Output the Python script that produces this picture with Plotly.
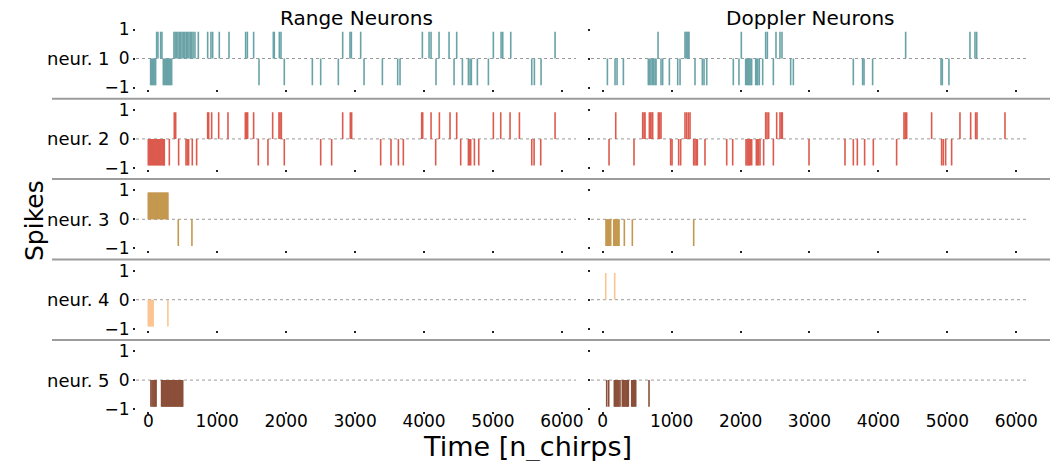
import plotly.graph_objects as go

# ---------------- data: spike times (n_chirps) ----------------
# Range neurons (left column)
R1_UP = [121, 140, 179, 198, 372, 390, 410, 430, 450, 470, 490, 510, 530, 550, 570, 590,
         610, 630, 650, 677, 726, 861, 909, 934, 1030, 1171, 1412, 1437, 1528, 1814, 1828,
         1901, 1925, 2820, 2926, 2946, 3081, 3976, 4073, 4102, 4218, 4363, 4474, 5006,
         5118, 5142, 5258, 5901]
R1_DN = [34, 50, 65, 80, 95, 106, 218, 235, 250, 265, 280, 295, 310, 325, 339, 1606, 1973,
         2380, 2501, 2757, 3130, 3396, 3618, 3652, 4174, 4436, 4557, 4644, 4668, 4687, 4774,
         4934, 5563, 5601, 5698]
R2_UP = [377, 397, 861, 876, 919, 1021, 1156, 1408, 1427, 1441, 1528, 1804, 1896, 1911, 1930,
         2820, 2931, 2950, 3966, 3981, 4102, 4223, 4377, 4474, 5006, 5113, 5248, 5384, 5901]
R2_DN = [0, 15, 30, 45, 60, 75, 90, 105, 120, 135, 150, 165, 180, 195, 210, 225, 232, 305,
         440, 547, 566, 585, 638, 701, 1596, 1736, 1973, 2501, 2660, 3371, 3521, 3628, 3700,
         4169, 4532, 4644, 4658, 4677, 4731, 4794, 5563, 5597, 5693]
R3_UP = [0, 12, 24, 36, 48, 60, 72, 84, 96, 108, 120, 132, 144, 156, 168, 180, 192, 204, 216,
         228, 240, 252, 264, 276, 284]
R3_DN = [435, 633]
R4_UP = []
R4_DN = [0, 15, 30, 45, 60, 70, 284]
R5_UP = []
R5_DN = [38, 55, 70, 85, 100, 113, 193, 205, 218, 230, 243, 255, 268, 280, 293, 305, 318, 330,
         343, 355, 368, 380, 393, 405, 418, 430, 443, 455, 468, 480, 490, 499]

# Doppler neurons (right column)
D1_UP = [803, 1194, 1210, 1225, 1240, 1252, 2011, 2364, 2389, 2514, 2572, 2601, 4395, 5328,
         5401, 5425]
D1_DN = [68, 179, 208, 300, 662, 680, 700, 720, 740, 760, 774, 846, 870, 967, 1088, 1122,
         1339, 1446, 1470, 1509, 1895, 1977, 2074, 2090, 2105, 2120, 2135, 2150, 2161, 2219,
         2235, 2250, 2272, 2321, 2476, 2727, 2766, 3636, 3771, 3791, 3916, 4908, 4927, 5023]
D2_UP = [189, 580, 600, 614, 677, 696, 716, 725, 807, 827, 846, 1194, 1218, 1243, 1267, 2364,
         2384, 2408, 2524, 2572, 2592, 2606, 4371, 4390, 4410, 4772, 5183, 5338, 5410, 5430,
         5836]
D2_DN = [92, 454, 986, 1006, 1102, 1131, 1320, 1339, 1359, 1373, 1484, 1799, 1886, 2079, 2095,
         2110, 2125, 2140, 2161, 2229, 2245, 2261, 2282, 2335, 2476, 2993, 3515, 3636, 3694,
         3800, 3926, 4264, 4917, 4941, 4975, 5062]
D3_UP = []
D3_DN = [48, 60, 72, 84, 96, 108, 116, 160, 172, 184, 196, 210, 225, 237, 314, 430, 1320]
D4_UP = [44, 174]
D4_DN = []
D5_UP = []
D5_DN = [58, 87, 169, 182, 195, 208, 221, 234, 251, 285, 298, 311, 324, 337, 350, 360, 372,
         421, 434, 447, 460, 479, 672]

NEURON_LABELS = ["neur. 1", "neur. 2", "neur. 3", "neur. 4", "neur. 5"]
COLUMN_TITLES = ["Range Neurons", "Doppler Neurons"]
X_TICKS = [0, 1000, 2000, 3000, 4000, 5000, 6000]
Y_TICKS = [-1, 0, 1]
COLORS = ["#69a3a7", "#dc5b4e", "#c4984f", "#fbc592", "#8b4f39"]

RANGE_SPIKES = [(R1_UP, R1_DN), (R2_UP, R2_DN), (R3_UP, R3_DN), (R4_UP, R4_DN), (R5_UP, R5_DN)]
DOPPLER_SPIKES = [(D1_UP, D1_DN), (D2_UP, D2_DN), (D3_UP, D3_DN), (D4_UP, D4_DN), (D5_UP, D5_DN)]

# ---------------- layout geometry ----------------
W, H = 1050, 461
SPIKE_LEN = 0.92          # drawn length of a +/-1 spike glyph
Y_RANGE = [-1.05, 1.1]
PX_PER_UNIT = 29.0
ROW_ZERO_PX = [58.5 + 80.4 * k for k in range(5)]
COL_PX = [(136, 576), (591, 1029)]
PX_PER_X = 0.06893
ZERO_X_PX = [148.3, 602.7]

fig = go.Figure()


def spike_xy(times, sign):
    xs, ys = [], []
    for t in times:
        xs += [t, t, None]
        ys += [0, sign * SPIKE_LEN, None]
    return xs, ys


font_family = "DejaVu Sans"
ax_i = 0
for c, spikes in enumerate([RANGE_SPIKES, DOPPLER_SPIKES]):
    x0px, x1px = COL_PX[c]
    xl = -(ZERO_X_PX[c] - x0px) / PX_PER_X
    xr = xl + (x1px - x0px) / PX_PER_X
    for r in range(5):
        ax_i += 1
        suf = "" if ax_i == 1 else str(ax_i)
        xa, ya = "x" + suf, "y" + suf
        up, dn = spikes[r]
        for times, sign in ((up, 1), (dn, -1)):
            if not times:
                continue
            xs, ys = spike_xy(times, sign)
            fig.add_trace(go.Scatter(x=xs, y=ys, mode="lines", xaxis=xa, yaxis=ya,
                                     line=dict(color=COLORS[r], width=1.6),
                                     showlegend=False, hoverinfo="skip"))
        z = ROW_ZERO_PX[r]
        top_px = z - (Y_RANGE[1]) * PX_PER_UNIT
        bot_px = z - (Y_RANGE[0]) * PX_PER_UNIT
        fig.layout["xaxis" + suf] = dict(
            domain=[x0px / W, x1px / W], range=[xl, xr], anchor=ya, automargin=False,
            tickvals=X_TICKS, ticks="outside", ticklen=2, tickwidth=1.5, tickcolor="#222",
            ticklabelstandoff=-7,
            showticklabels=(r == 4), showgrid=False, zeroline=False, showline=False,
            tickfont=dict(size=17, color="black", family=font_family))
        fig.layout["yaxis" + suf] = dict(
            domain=[1 - bot_px / H, 1 - top_px / H], range=Y_RANGE, anchor=xa,
            automargin=False,
            tickvals=Y_TICKS, ticks="outside", ticklen=2, tickwidth=1.5, tickcolor="#222",
            showticklabels=(c == 0), showgrid=False, zeroline=False, showline=False,
            tickfont=dict(size=17, color="black", family=font_family))
        # dotted zero line
        fig.add_shape(type="line", xref=xa + " domain", yref=ya, x0=0, x1=1, y0=0, y1=0,
                      line=dict(color="#9a9a9a", width=1, dash="dot"), layer="below")
        if c == 0:
            fig.add_annotation(text=NEURON_LABELS[r], xref="paper", yref="paper",
                               x=112 / W, y=1 - z / H, xanchor="right", yanchor="middle",
                               showarrow=False,
                               font=dict(size=18, color="black", family=font_family))

# row separators
for k in range(4):
    ypx = (ROW_ZERO_PX[k] + ROW_ZERO_PX[k + 1]) / 2
    fig.add_shape(type="line", xref="paper", yref="paper", x0=52 / W, x1=1.0,
                  y0=1 - ypx / H, y1=1 - ypx / H, line=dict(color="#9c9c9c", width=2))

# column titles
for c, title in enumerate(COLUMN_TITLES):
    cx = (COL_PX[c][0] + COL_PX[c][1]) / 2 / W
    fig.add_annotation(text=title, xref="paper", yref="paper", x=cx, y=1 - 18 / H,
                       xanchor="center", yanchor="middle", showarrow=False,
                       font=dict(size=20, color="black", family=font_family))

fig.add_annotation(text="Time [n_chirps]", xref="paper", yref="paper", x=527 / W,
                   y=1 - 446 / H, xanchor="center", yanchor="middle", showarrow=False,
                   font=dict(size=27, color="black", family=font_family))
fig.add_annotation(text="Spikes", xref="paper", yref="paper", x=35 / W, y=1 - 221 / H,
                   xanchor="center", yanchor="middle", showarrow=False, textangle=-90,
                   font=dict(size=25, color="black", family=font_family))

fig.update_layout(width=W, height=H,
                  margin=dict(l=0, r=0, t=0, b=0, pad=0, autoexpand=False),
                  paper_bgcolor="white", plot_bgcolor="white",
                  font=dict(family=font_family, color="black"))

fig.write_html("out.html")
